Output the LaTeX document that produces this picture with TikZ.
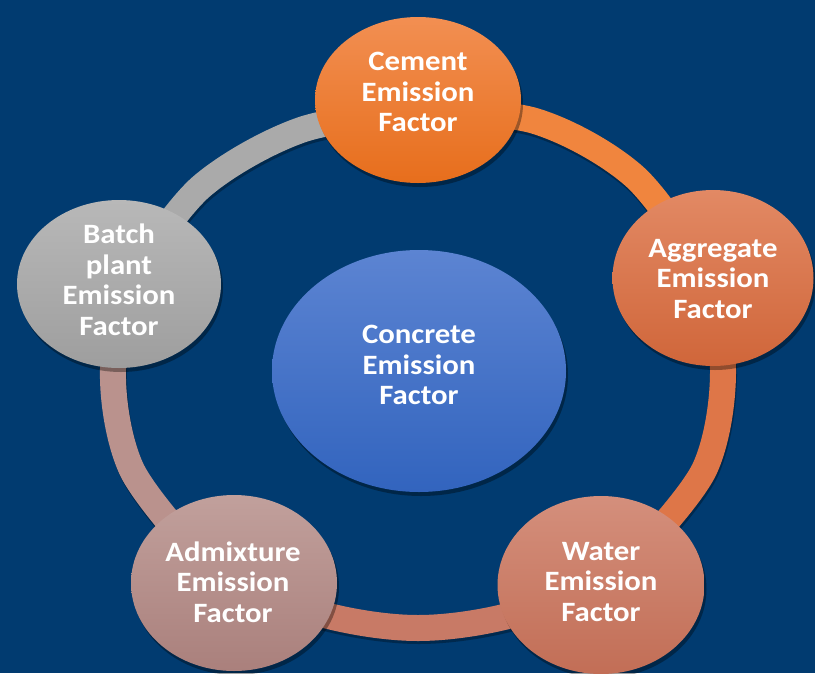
\documentclass[tikz,border=0pt]{standalone}
\usepackage{fontspec}
\setmainfont{Carlito}[FakeStretch=1.1]
\usetikzlibrary{shapes.geometric,shadows}

\definecolor{bg}{RGB}{1,59,112}
% ring segment colours
\definecolor{ringA}{RGB}{170,170,170}
\definecolor{ringB}{RGB}{240,133,62}
\definecolor{ringC}{RGB}{222,118,72}
\definecolor{ringD}{RGB}{200,122,102}
\definecolor{ringE}{RGB}{186,146,141}
% node fills (top / bottom)
\definecolor{cemT}{RGB}{242,143,82}
\definecolor{cemB}{RGB}{231,110,28}
\definecolor{aggT}{RGB}{226,137,100}
\definecolor{aggB}{RGB}{208,102,58}
\definecolor{watT}{RGB}{212,143,124}
\definecolor{watB}{RGB}{194,110,86}
\definecolor{admT}{RGB}{193,160,156}
\definecolor{admB}{RGB}{170,128,124}
\definecolor{batT}{RGB}{184,184,184}
\definecolor{batB}{RGB}{158,158,158}
\definecolor{conT}{RGB}{92,132,210}
\definecolor{conB}{RGB}{50,100,190}

\tikzset{
  factor/.style={ellipse, inner sep=0pt, draw=none,
    drop shadow={shadow xshift=2pt, shadow yshift=-4pt, opacity=0.35, fill=black}},
  lbl/.style={text=white, align=center, inner sep=0pt,
    font=\fontsize{28}{30.5}\selectfont\bfseries},
  ringseg/.style={line width=26pt, line cap=butt},
  ringshadow/.style={ringseg, black, opacity=0.3,
    transform canvas={xshift=1pt,yshift=-3pt}}
}

\begin{document}
\begin{tikzpicture}[x=1pt,y=-1pt]
\fill[bg] (0,0) rectangle (815,673);
\useasboundingbox (0,0) rectangle (815,673);

% centres of the six ellipses
\path
  (418,100) coordinate (cemc)
  (713,278) coordinate (aggc)
  (601,585) coordinate (watc)
  (234,583) coordinate (admc)
  (119,284) coordinate (batc)
  (419,371) coordinate (conc);

% points where the ring passes beneath each outer ellipse
\path
  (418,110) coordinate (ring-cem)
  (703,268) coordinate (ring-agg)
  (641,550) coordinate (ring-wat)
  (195,552) coordinate (ring-adm)
  (136,270) coordinate (ring-bat);

% ring segments between neighbouring factors
\def\segA{plot[smooth, tension=0.55] coordinates {(ring-bat) (202,186) (301,130) (ring-cem)}}
\def\segB{plot[smooth, tension=0.55] coordinates {(ring-cem) (535,121) (634,176) (ring-agg)}}
\def\segC{plot[smooth, tension=0.55] coordinates {(ring-agg) (723,369) (705,468) (ring-wat)}}
\def\segD{plot[smooth, tension=0.55] coordinates {(ring-wat) (535,608) (418,628) (301,608) (ring-adm)}}
\def\segE{plot[smooth, tension=0.55] coordinates {(ring-adm) (131,468) (113,369) (ring-bat)}}

\draw[ringshadow] \segA;
\draw[ringshadow] \segB;
\draw[ringshadow] \segC;
\draw[ringshadow] \segD;
\draw[ringshadow] \segE;
\draw[ringseg, ringA] \segA;
\draw[ringseg, ringB] \segB;
\draw[ringseg, ringC] \segC;
\draw[ringseg, ringD] \segD;
\draw[ringseg, ringE] \segE;

% the factor ellipses
\node[factor, minimum width=206pt, minimum height=166pt, top color=cemT, bottom color=cemB] (cement) at (cemc) {};
\node[factor, minimum width=201pt, minimum height=176pt, top color=aggT, bottom color=aggB] (aggregate) at (aggc) {};
\node[factor, minimum width=207pt, minimum height=178pt, top color=watT, bottom color=watB] (water) at (watc) {};
\node[factor, minimum width=206pt, minimum height=176pt, top color=admT, bottom color=admB] (admixture) at (admc) {};
\node[factor, minimum width=204pt, minimum height=168pt, top color=batT, bottom color=batB] (batch) at (batc) {};
\node[factor, minimum width=294pt, minimum height=242pt, top color=conT, bottom color=conB] (concrete) at (conc) {};

% labels
\node[lbl] (cement-t)    at (418,92)  {Cement\\Emission\\Factor};
\node[lbl] (aggregate-t) at (713,279) {Aggregate\\Emission\\Factor};
\node[lbl] (water-t)     at (601,582) {Water\\Emission\\Factor};
\node[lbl] (admixture-t) at (233,582) {Admixture\\Emission\\Factor};
\node[lbl] (batch-t)     at (119,280) {Batch\\plant\\Emission\\Factor};
\node[lbl] (concrete-t)  at (419,365) {Concrete\\Emission\\Factor};
\end{tikzpicture}
\end{document}
